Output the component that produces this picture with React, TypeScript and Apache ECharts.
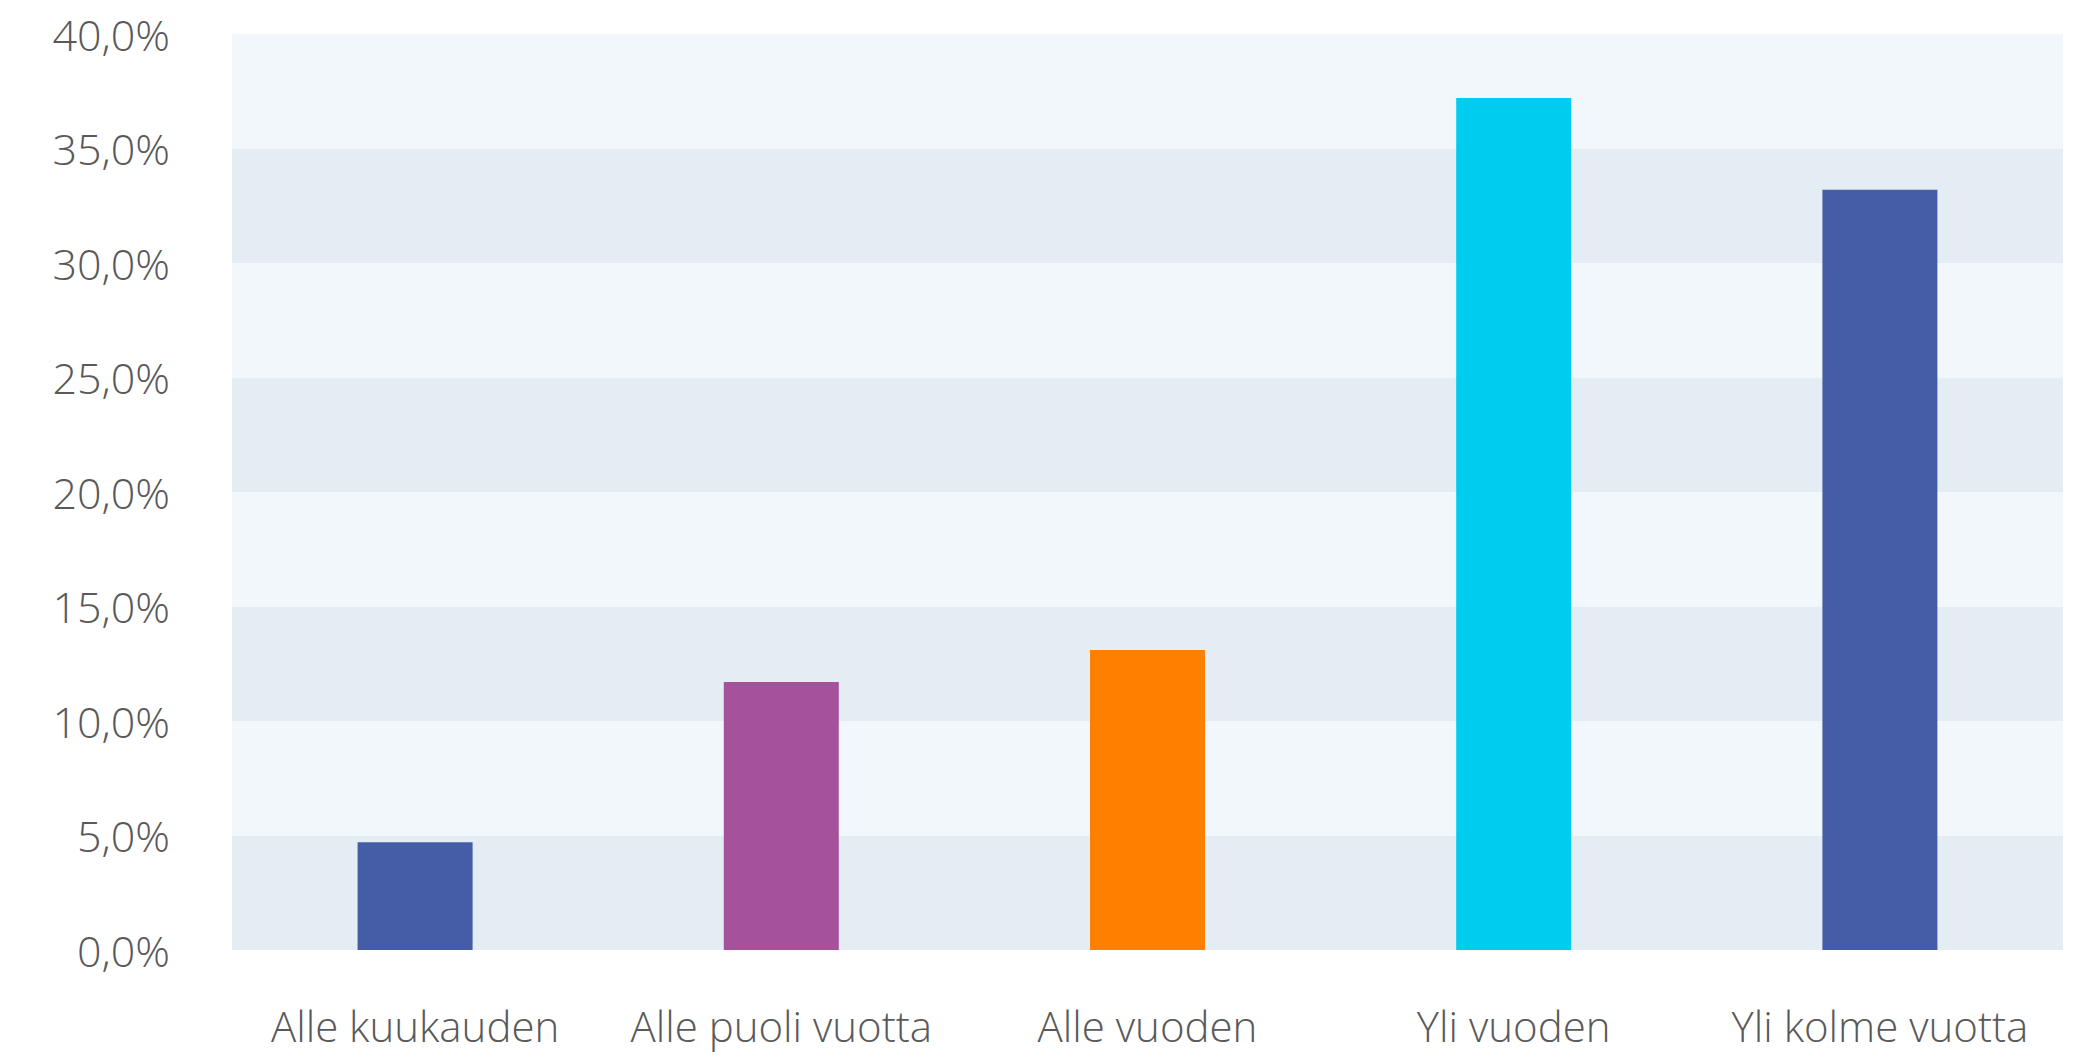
import React, { useEffect, useRef } from "react";
import * as echarts from "echarts";

const categories = ["Alle kuukauden", "Alle puoli vuotta", "Alle vuoden", "Yli vuoden", "Yli kolme vuotta"];
const values = [4.7, 11.7, 13.1, 37.2, 33.2];
const barColors = ["#445DA6", "#A6529A", "#FF8000", "#00CCF0", "#445DA6"];
const yTicks = [0, 5, 10, 15, 20, 25, 30, 35, 40];

export default function App() {
  const ref = useRef<HTMLDivElement>(null);
  useEffect(() => {
    if (!ref.current) return;
    const chart = echarts.init(ref.current, undefined, { renderer: "svg" });
    const font = "Open Sans";
    chart.setOption({
      animation: false,
      backgroundColor: "#ffffff",
      grid: { left: 232, right: 17, top: 34, bottom: 102, containLabel: false },
      xAxis: {
        type: "category",
        data: categories,
        axisLine: { show: false },
        axisTick: { show: false },
        axisLabel: {
          color: "#595959",
          fontFamily: font,
          fontWeight: 300,
          fontSize: 42,
          margin: 54,
          interval: 0,
        },
      },
      yAxis: {
        type: "value",
        min: yTicks[0],
        max: yTicks[yTicks.length - 1],
        interval: 5,
        axisLine: { show: false },
        axisTick: { show: false },
        splitLine: { show: false },
        splitArea: { show: true, areaStyle: { color: ["#E4ECF4", "#F2F7FB"] } },
        axisLabel: {
          color: "#595959",
          fontFamily: font,
          fontWeight: 300,
          fontSize: 43,
          margin: 62,
          formatter: (v: number) => v.toFixed(1).replace(".", ",") + "%",
        },
      },
      series: [
        {
          type: "bar",
          barWidth: 115,
          data: values.map((v, i) => ({ value: v, itemStyle: { color: barColors[i] } })),
        },
      ],
    });
    return () => chart.dispose();
  }, []);
  return <div ref={ref} style={{ position: "fixed", left: 0, top: 0, width: 2080, height: 1052 }} />;
}
